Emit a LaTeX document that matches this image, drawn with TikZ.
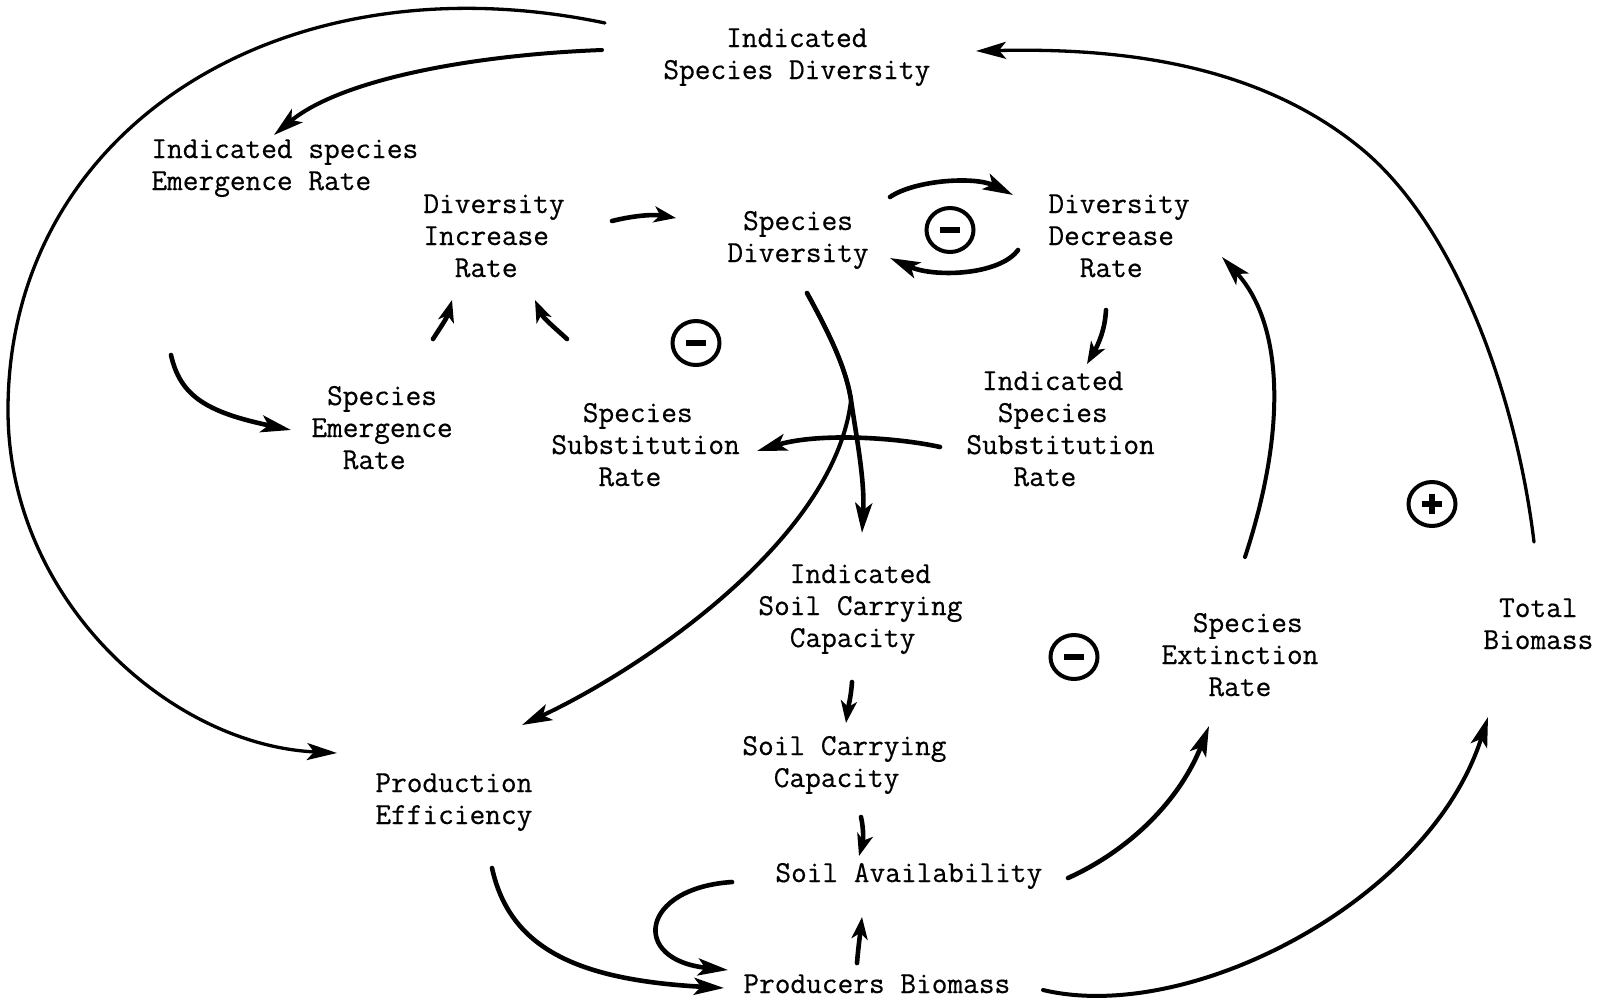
\documentclass[tikz,border=0pt]{standalone}
\usepackage{fontspec}
\usetikzlibrary{arrows.meta,shapes.geometric}
% typewriter face, slightly heavier ink
\newfontfamily\typewriter{Latin Modern Mono}[FakeBold=0.5]
% stacked lines of typewriter text, baseline on the first line
\newcommand\vlines[1]{\begin{tabular}[t]{@{}l@{}}#1\end{tabular}}
\newcommand\ind[1]{\phantom{#1}}
\begin{document}
\begin{tikzpicture}[x=0.5pt,y=-0.5pt,
  lbl/.style={inner sep=0pt, anchor=base west,
    font=\typewriter\fontsize{15.24}{16}\selectfont},
  bigtip/.style={-{Stealth[length=15pt,width=8.5pt,inset=3.5pt]}},
  smalltip/.style={-{Stealth[length=11pt,width=8pt,inset=3pt]}},
  link/.style={line width=2.3pt, line cap=round, bigtip},
  shortlink/.style={line width=2.3pt, line cap=round, smalltip},
  midlink/.style={line width=2pt, line cap=round, bigtip},
  thinlink/.style={line width=1.65pt, line cap=round, bigtip},
  sign/.style={ellipse, draw, line width=2pt, inner sep=0pt,
    minimum width=23.5pt, minimum height=22pt},
  bar/.style={line width=2.8pt},
]
\fill[white] (0,0) rectangle (1602,1002);
\useasboundingbox (0,0) rectangle (1602,1002);

% ---- variables ----
\node[lbl] (isd)  at (663,47)   {\vlines{\ind{xxxx}Indicated\\Species Diversity}};
\node[lbl] (iser) at (151,158)  {\vlines{Indicated species\\Emergence Rate}};
\node[lbl] (dir)  at (423,213)  {\vlines{Diversity\\Increase\\\ind{xx}Rate}};
\node[lbl] (sd)   at (727,230)  {\vlines{\ind{x}Species\\Diversity}};
\node[lbl] (ddr)  at (1048,213) {\vlines{Diversity\\Decrease\\\ind{xx}Rate}};
\node[lbl] (ser)  at (311,405)  {\vlines{\ind{x}Species\\Emergence\\\ind{xx}Rate}};
\node[lbl] (ssr)  at (551,422)  {\vlines{\ind{xx}Species\\Substitution\\\ind{xxx}Rate}};
\node[lbl] (issr) at (966,390)  {\vlines{\ind{x}Indicated\\\ind{xx}Species\\Substitution\\\ind{xxx}Rate}};
\node[lbl] (iscc) at (758,583)  {\vlines{\ind{xx}Indicated\\Soil Carrying\\\ind{xx}Capacity}};
\node[lbl] (scc)  at (742,755)  {\vlines{Soil Carrying\\\ind{xx}Capacity}};
\node[lbl] (sa)   at (775,882)  {Soil Availability};
\node[lbl] (pb)   at (743,993)  {Producers Biomass};
\node[lbl] (pe)   at (375,792)  {\vlines{Production\\Efficiency}};
\node[lbl] (sxr)  at (1161,632) {\vlines{\ind{xx}Species\\Extinction\\\ind{xxx}Rate}};
\node[lbl] (tb)   at (1483,617) {\vlines{\ind{x}Total\\Biomass}};

% ---- loop polarity signs ----
\node[sign, path picture={\draw[bar] ([xshift=-5pt]path picture bounding box.center) -- ([xshift=5pt]path picture bounding box.center);}] (neg1) at (950,230) {};
\node[sign, path picture={\draw[bar] ([xshift=-5pt]path picture bounding box.center) -- ([xshift=5pt]path picture bounding box.center);}] (neg2) at (696,343) {};
\node[sign, path picture={\draw[bar] ([xshift=-5pt]path picture bounding box.center) -- ([xshift=5pt]path picture bounding box.center);}] (neg3) at (1074,657) {};
\node[sign, path picture={\draw[bar] ([xshift=-5pt]path picture bounding box.center) -- ([xshift=5pt]path picture bounding box.center);
  \draw[bar] ([yshift=-5pt]path picture bounding box.center) -- ([yshift=5pt]path picture bounding box.center);}] (pos1) at (1432,504) {};

% ---- connector end points ----
\coordinate (a0) at (605,23);   \coordinate (a1) at (8,410);    \coordinate (a2) at (337,753);
\coordinate (b0) at (602,50);   \coordinate (b1) at (274,135);
\coordinate (c0) at (612,221);  \coordinate (c1) at (676,218);
\coordinate (d0) at (890,197);  \coordinate (d1) at (1013,195);
\coordinate (e0) at (1018,250); \coordinate (e1) at (890,258);
\coordinate (f0) at (1106,310); \coordinate (f1) at (1087,364);
\coordinate (g0) at (171,355);  \coordinate (g1) at (291,430);
\coordinate (h0) at (433,339);  \coordinate (h1) at (452,300);
\coordinate (i0) at (567,339);  \coordinate (i1) at (535,300);
\coordinate (j0) at (940,447);  \coordinate (j1) at (757,451);
\coordinate (k0) at (807,293);  \coordinate (km) at (851,400);  \coordinate (k1) at (862,533);
\coordinate (l1) at (522,725);
\coordinate (m0) at (852,682);  \coordinate (m1) at (846,723);
\coordinate (n0) at (861,817);  \coordinate (n1) at (859,856);
\coordinate (o0) at (857,963);  \coordinate (o1) at (862,917);
\coordinate (p0) at (732,882);  \coordinate (p1) at (728,970);
\coordinate (q0) at (492,868);  \coordinate (q1) at (724,988);
\coordinate (r0) at (1068,878); \coordinate (r1) at (1209,726);
\coordinate (s0) at (1043,990); \coordinate (s1) at (1488,717);
\coordinate (t0) at (1245,557); \coordinate (t1) at (1222,257);
\coordinate (u0) at (1534,542); \coordinate (um) at (1363,150); \coordinate (u1) at (976,51);

% ---- connectors ----
% Indicated Species Diversity -> Production Efficiency (outer arc)
\draw[thinlink] (a0) .. controls (280,-45) and (8,130) .. (a1)
                     .. controls (8,600) and (170,745) .. (a2);
% Indicated Species Diversity -> Indicated species Emergence Rate
\draw[midlink] (b0) .. controls (470,55) and (340,80) .. (b1);
% Diversity Increase Rate -> Species Diversity
\draw[shortlink] (c0) .. controls (632,216) and (652,214) .. (c1);
% Species Diversity <-> Diversity Decrease Rate
\draw[link] (d0) .. controls (915,180) and (975,176) .. (d1);
\draw[link] (e0) .. controls (1000,275) and (935,278) .. (e1);
% Diversity Decrease Rate -> Indicated Species Substitution Rate
\draw[shortlink] (f0) .. controls (1105,330) and (1098,345) .. (f1);
% Indicated species Emergence Rate -> Species Emergence Rate
\draw[link] (g0) .. controls (180,395) and (205,412) .. (g1);
% Emergence / Substitution -> Diversity Increase Rate
\draw[shortlink] (h0) .. controls (440,328) and (447,318) .. (h1);
\draw[shortlink] (i0) .. controls (555,328) and (543,318) .. (i1);
% Indicated Species Substitution Rate -> Species Substitution Rate
\draw[link] (j0) .. controls (900,438) and (820,432) .. (j1);
% Species Diversity -> Indicated Soil Carrying Capacity
\draw[link] (k0) .. controls (830,335) and (846,368) .. (km)
                 .. controls (856,435) and (865,480) .. (k1);
% Species Diversity -> Production Efficiency
\draw[midlink] (k0) .. controls (830,335) and (846,368) .. (km)
                    .. controls (835,540) and (640,670) .. (l1);
% soil chain
\draw[shortlink] (m0) .. controls (851,697) and (848,708) .. (m1);
\draw[shortlink] (n0) .. controls (864,830) and (863,842) .. (n1);
\draw[shortlink] (o0) .. controls (858,950) and (860,935) .. (o1);
% Soil Availability -> Producers Biomass
\draw[link] (p0) .. controls (640,888) and (630,960) .. (p1);
% Production Efficiency -> Producers Biomass
\draw[link] (q0) .. controls (510,950) and (580,980) .. (q1);
% Soil Availability -> Species Extinction Rate
\draw[link] (r0) .. controls (1130,850) and (1180,800) .. (r1);
% Producers Biomass -> Total Biomass
\draw[midlink] (s0) .. controls (1190,1025) and (1430,900) .. (s1);
% Species Extinction Rate -> Diversity Decrease Rate
\draw[midlink] (t0) .. controls (1290,420) and (1280,320) .. (t1);
% Total Biomass -> Indicated Species Diversity
\draw[thinlink] (u0) .. controls (1516,393) and (1455,227) .. (um)
                     .. controls (1255,60) and (1110,48) .. (u1);
\end{tikzpicture}
\end{document}
